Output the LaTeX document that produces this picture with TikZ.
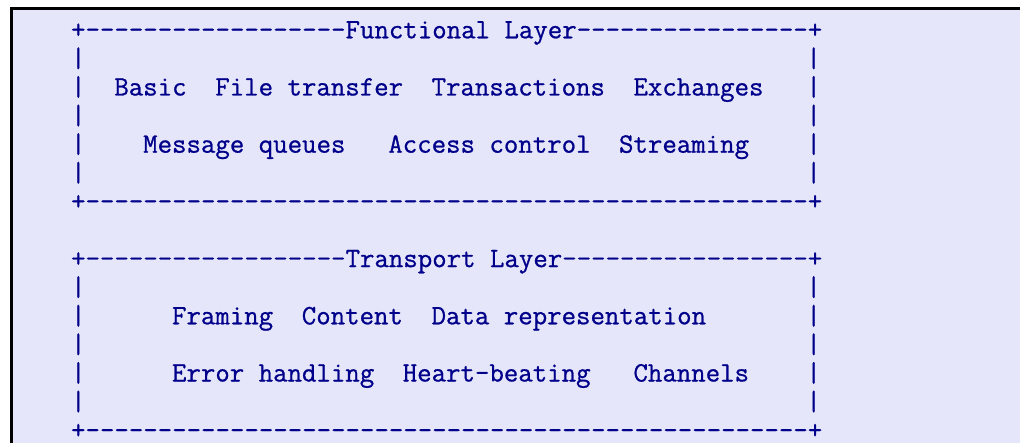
\documentclass[tikz,border=0pt]{standalone}
\usepackage{fontspec}
\setmonofont{Latin Modern Mono}[FakeBold=0.8]
\definecolor{lav}{HTML}{E6E6FA}
\definecolor{navyblue}{HTML}{00008B}
\newcommand\dsh[1]{\ifnum#1>0 -\kern0pt\expandafter\dsh\expandafter{\the\numexpr#1-1\relax}\fi}
\tikzset{asc/.style={anchor=base west, inner sep=0pt, outer sep=0pt, text=navyblue,
  font=\ttfamily\fontsize{28.05}{28.6}\selectfont}}
\newcommand\seg[4]{\node[asc] (#1) at ({71.1+#2*14.42},{38.3+#3*28.6}) {#4};}
\begin{document}
\begin{tikzpicture}[x=1pt,y=-1pt]
\useasboundingbox (0,0) rectangle (1020,443);
\fill[white] (0,0) rectangle (1020,443);
\fill[lav] (11.7,9) rectangle (1020,443);
\draw[black, line width=3pt] (11.7,443) -- (11.7,9) -- (1020,9);
% Functional layer
\seg{ftop}{0}{0}{+\dsh{18}Functional Layer\dsh{16}+}
\seg{fl1}{0}{1}{|}\seg{fr1}{51}{1}{|}
\seg{fl2}{0}{2}{|}\seg{basic}{3}{2}{Basic}\seg{file}{10}{2}{File transfer}\seg{trans}{25}{2}{Transactions}\seg{exch}{39}{2}{Exchanges}\seg{fr2}{51}{2}{|}
\seg{fl3}{0}{3}{|}\seg{fr3}{51}{3}{|}
\seg{fl4}{0}{4}{|}\seg{mq}{5}{4}{Message queues}\seg{ac}{22}{4}{Access control}\seg{strm}{38}{4}{Streaming}\seg{fr4}{51}{4}{|}
\seg{fl5}{0}{5}{|}\seg{fr5}{51}{5}{|}
\seg{fbot}{0}{6}{+\dsh{50}+}
% Transport layer
\seg{ttop}{0}{8}{+\dsh{18}Transport Layer\dsh{17}+}
\seg{tl1}{0}{9}{|}\seg{tr1}{51}{9}{|}
\seg{tl2}{0}{10}{|}\seg{fram}{7}{10}{Framing}\seg{cont}{16}{10}{Content}\seg{data}{25}{10}{Data representation}\seg{tr2}{51}{10}{|}
\seg{tl3}{0}{11}{|}\seg{tr3}{51}{11}{|}
\seg{tl4}{0}{12}{|}\seg{err}{7}{12}{Error handling}\seg{hb}{23}{12}{Heart-beating}\seg{chan}{39}{12}{Channels}\seg{tr4}{51}{12}{|}
\seg{tl5}{0}{13}{|}\seg{tr5}{51}{13}{|}
\seg{tbot}{0}{14}{+\dsh{50}+}
\end{tikzpicture}
\end{document}
